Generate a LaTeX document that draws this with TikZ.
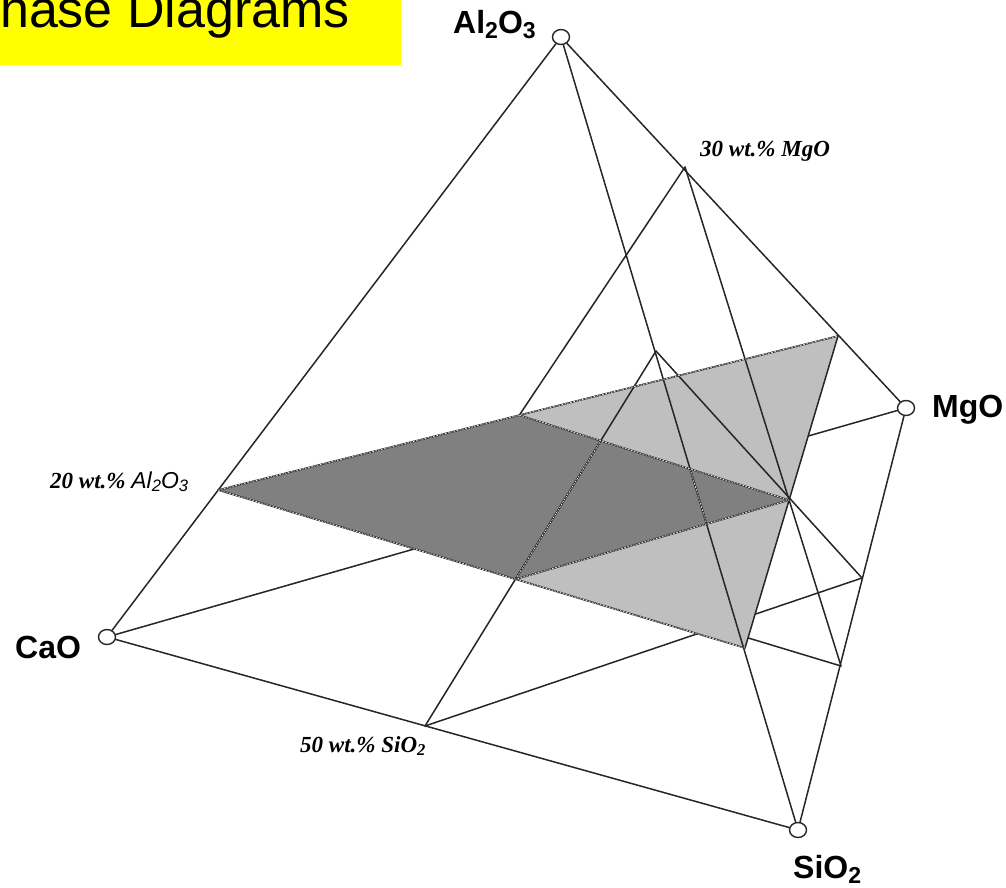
\documentclass[tikz,border=0pt]{standalone}
\usepackage{fontspec}
\setmainfont{Liberation Sans}
\newfontfamily\serifbi{Liberation Serif}
\usetikzlibrary{shapes.geometric}
\definecolor{bannerYellow}{HTML}{FFFF00}
% chemical subscript: smaller digit, slightly lowered
\newcommand\chemsub[1]{\raisebox{-0.16em}{\scalebox{0.72}{#1}}}
\begin{document}
\begin{tikzpicture}[x=1pt,y=-1pt,
  line cap=round, line join=round,
  edge/.style={draw=black!85, line width=1.5pt},
  hatch/.style={draw=black!85, line width=1.6pt,
    postaction={draw=white, line width=0.6pt, dash pattern=on 1.5pt off 1.5pt}},
  corner/.style={ellipse, draw=black!85, line width=1.4pt, fill=white,
    minimum width=17pt, minimum height=15pt, inner sep=0pt},
  oxide/.style={inner sep=0pt, anchor=base west,
    font=\fontsize{32}{32}\selectfont\bfseries},
  pct/.style={inner sep=0pt, anchor=base west,
    font=\fontsize{23}{23}\selectfont\serifbi\bfseries\itshape}]
\useasboundingbox (0,0) rectangle (1006,887);

% title banner
\begin{scope}
  \clip (0,0) rectangle (401,65);
  \fill[bannerYellow] (0,0) rectangle (401,65);
  \node[inner sep=0pt, anchor=base east, font=\fontsize{52}{52}\selectfont]
    (title) at (350,27) {Phase Diagrams};
\end{scope}

% composition points on the edges of the tetrahedron
\coordinate (a1) at (218,490);   % 20 wt.% Al2O3 on CaO--Al2O3
\coordinate (a2) at (838,336);   % on MgO--Al2O3
\coordinate (a3) at (745,648);   % on SiO2--Al2O3
\coordinate (m1) at (685,167);   % 30 wt.% MgO on Al2O3--MgO
\coordinate (m2) at (841,666);   % on SiO2--MgO
\coordinate (m3) at (434,543);   % on CaO--MgO (hidden)
\coordinate (s1) at (656,351);   % 50 wt.% SiO2 on Al2O3--SiO2
\coordinate (s2) at (425,726);   % on CaO--SiO2
\coordinate (s3) at (862,578);   % on MgO--SiO2

% corners
\node[corner] (A) at (561,37) {};
\node[corner] (M) at (906,408) {};
\node[corner] (C) at (107,637) {};
\node[corner] (S) at (798,830) {};

% back edges and lines on the back faces (partly covered by the section)
\draw[edge] (C) -- (M);
\draw[edge] (m1) -- (m3);
\draw[edge] (m3) -- (m2);
\draw[edge] (s2) -- (s3);

% 20 wt.% Al2O3 section
\coordinate (q1) at (intersection of a1--a2 and m1--m3);
\coordinate (q2) at (intersection of a2--a3 and m1--m2);
\coordinate (q3) at (intersection of a1--a3 and s1--s2);
\fill[black!25] (a1) -- (a2) -- (a3) -- cycle;
\fill[black!50] (a1) -- (q1) -- (q2) -- (q3) -- cycle;

% front edges
\draw[edge] (A) -- (C);
\draw[edge] (A) -- (M);
\draw[edge] (A) -- (S);
\draw[edge] (C) -- (S);
\draw[edge] (M) -- (S);

% lines on the front faces
\draw[edge] (s1) -- (s2);
\draw[edge] (s1) -- (s3);
\draw[edge] (m1) -- (m2);
\draw[edge] (a2) -- (a3);

% section outline and the lines crossing the dark region
\coordinate (r1) at (intersection of s1--s2 and q1--q2);
\coordinate (r2) at (intersection of A--S and q1--q2);
\coordinate (r3) at (intersection of A--S and q2--q3);
\draw[hatch] (q3) -- (r1);
\draw[hatch] (r2) -- (r3);
\draw[hatch] (a1) -- (a2);
\draw[hatch] (a1) -- (a3);
\draw[hatch] (q1) -- (q2) -- (q3);

% labels
\node[oxide] (lA) at (453,33) {Al\chemsub{2}O\chemsub{3}};
\node[oxide] (lM) at (932,417) {MgO};
\node[oxide] (lC) at (15,658) {CaO};
\node[oxide] (lS) at (793,878) {SiO\chemsub{2}};
\node[pct] (pM) at (700,156) {30 wt.\% MgO};
\node[pct] (pA) at (50,488) {20 wt.\% {\rmfamily\mdseries\itshape Al\chemsub{2}O\chemsub{3}}};
\node[pct] (pS) at (300,752) {50 wt.\% SiO\chemsub{2}};
\end{tikzpicture}
\end{document}
